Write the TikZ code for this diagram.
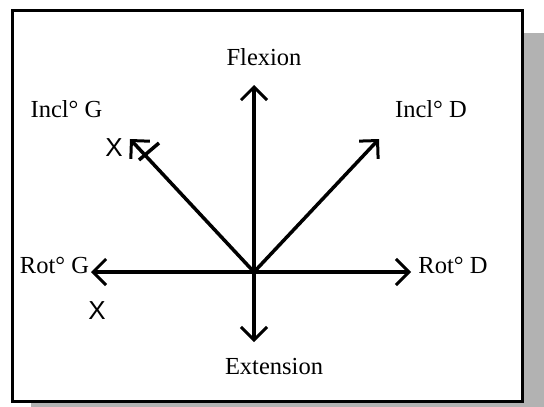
\documentclass[tikz,border=0pt]{standalone}
\usepackage{fontspec}
\setmainfont{Liberation Serif}
\setsansfont{Liberation Sans}
\usetikzlibrary{arrows.meta}

\begin{document}
\begin{tikzpicture}[x=1pt, y=-1pt,
  axis/.style={-{Straight Barb[length=13pt, width=26pt, line width=3pt]},
    line width=3.5pt},
  lbl/.style={font=\fontsize{24.5}{28}\selectfont, inner sep=0pt},
  handx/.style={font=\sffamily\fontsize{26}{28}\selectfont, inner sep=0pt}
]
  \useasboundingbox (0,0) rectangle (544,407);
  % shadow and frame
  \fill[gray!60] (31,33) rectangle (544,407);
  \draw[line width=3pt, fill=white] (12,10) rectangle (522,401);

  % centre and arrow ends
  \coordinate (o)  at (254,272);
  \coordinate (fl) at (254,85);
  \coordinate (ex) at (254,342);
  \coordinate (rd) at (411,272);
  \coordinate (rg) at (91,272);
  \coordinate (ig) at (130,139);
  \coordinate (id) at (379,139);

  \draw[axis] (o) -- (fl);
  \draw[axis] (o) -- (ex);
  \draw[axis] (o) -- (rd);
  \draw[axis, line width=4.8pt] (o) -- (rg);
  \draw[axis] (o) -- (ig);
  \draw[axis] (o) -- (id);

  % labels
  \node[lbl] (flexion) at (264,57)  {Flexion};
  \node[lbl] (extens)  at (274,367) {Extension};
  \node[lbl] (inclg)   at (66.5,109) {Incl° G};
  \node[lbl] (incld)   at (431,109) {Incl° D};
  \node[lbl] (rotg)    at (54.5,265.5) {Rot° G};
  \node[lbl] (rotd)    at (453,265.5) {Rot° D};

  % hand marks
  \node[handx] (xone) at (114,148) {X};
  \node[handx] (xtwo) at (97,311)  {X};
  \draw[line width=3.5pt] (139,160) -- (159,143);
\end{tikzpicture}
\end{document}
